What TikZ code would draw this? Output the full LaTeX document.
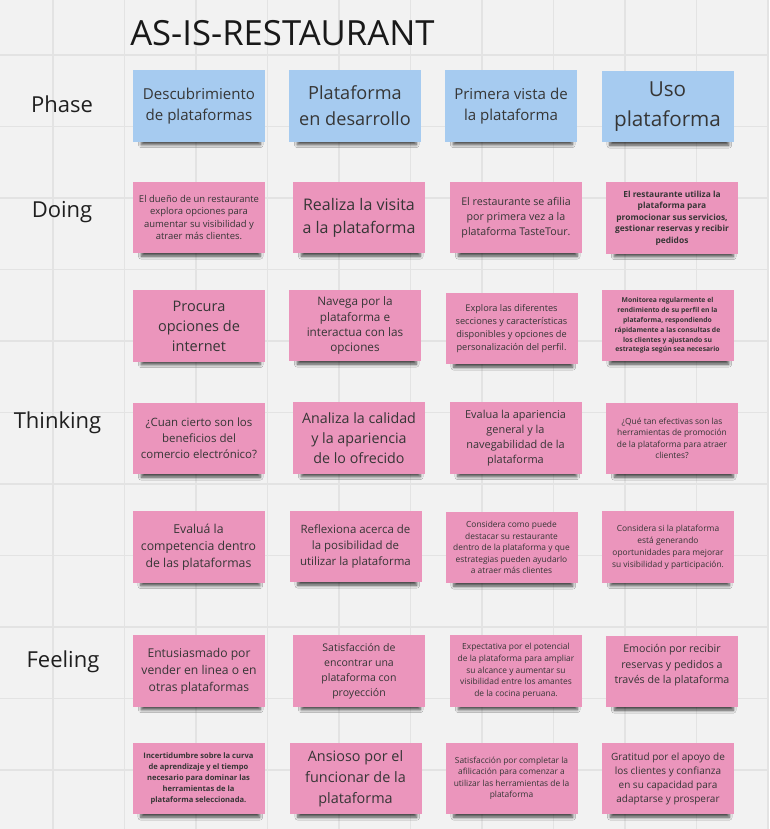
\documentclass[tikz,border=0pt]{standalone}
\usepackage{fontspec}
\setmainfont{Open Sans}
\newfontfamily\titlefont{Open Sans}
\usetikzlibrary{shadows.blur}
\definecolor{boardbg}{HTML}{F2F2F2}
\definecolor{gridline}{HTML}{E3E3E3}
\definecolor{phaseblue}{HTML}{A6CBF0}
\definecolor{notepink}{HTML}{EB95BC}
\definecolor{notetext}{HTML}{363636}

\begin{document}
\begin{tikzpicture}[
  x=0.75pt, y=-0.75pt,
  note/.style={minimum width=99pt, minimum height=53.5pt, inner sep=2pt, align=center, text=notetext,
    blur shadow={shadow xshift=1.5pt, shadow yshift=-5.5pt, shadow scale=0.9,
      shadow opacity=70, shadow blur steps=6, shadow blur radius=2.5pt}},
  phasenote/.style={note, fill=phaseblue},
  pinknote/.style={note, fill=notepink},
  fs/.style 2 args={font=\fontsize{#1}{#2}\selectfont},
  fsb/.style 2 args={font=\fontsize{#1}{#2}\selectfont\bfseries},
  rowlabel/.style={font=\fontsize{16.5}{20}\selectfont, text=black!88}
]
  \fill[boardbg] (0,0) rectangle (769,829);
  \useasboundingbox (0,0) rectangle (769,829);
  \foreach \k in {0,...,10} {
    \draw[gridline, line width=0.9pt] ({53+71.5*\k},0) -- ({53+71.5*\k},829);
    \draw[gridline, line width=0.9pt] (0,{55+71.5*\k}) -- (769,{55+71.5*\k});
  }

  \node[font=\titlefont\fontsize{26}{30}\selectfont, anchor=base west, inner sep=0, text=black!90] (title) at (130,45) {AS-IS-RESTAURANT};

  \node[rowlabel] (lphase) at (62,104) {Phase};
  \node[rowlabel] (ldoing) at (62,212) {Doing};
  \node[rowlabel] (lthinking) at (57.5,423) {Thinking};
  \node[rowlabel] (lfeeling) at (63,662) {Feeling};

  \node[phasenote, fs={11.3}{15.8}] (ph1) at (199,106) {Descubrimiento\\de plataformas};
  \node[phasenote, fs={13.6}{19.5}] (ph2) at (355,106) {Plataforma\\en desarrollo};
  \node[phasenote, fs={11.3}{15.8}] (ph3) at (511,106) {Primera vista de\\la plataforma};
  \node[phasenote, fs={15.5}{22.5}] (ph4) at (667.5,106.5) {Uso\\plataforma};

  \node[pinknote, fs={7.1}{9.3}] (doA1) at (199,217.5) {El dueño de un restaurante\\explora opciones para\\aumentar su visibilidad y\\atraer más clientes.};
  \node[pinknote, fs={12}{17.3}] (doA2) at (359,217.5) {Realiza la visita\\a la plataforma};
  \node[pinknote, fs={8}{11.3}] (doA3) at (516,217.5) {El restaurante se afilia\\por primera vez a la\\plataforma TasteTour.};
  \node[pinknote, fsb={6.3}{8.6}] (doA4) at (672,218) {El restaurante utiliza la\\plataforma para\\promocionar sus servicios,\\gestionar reservas y recibir\\pedidos};

  \node[pinknote, fs={10.9}{15}] (doB1) at (199,326) {Procura\\opciones de\\internet};
  \node[pinknote, fs={8.8}{11.3}] (doB2) at (355,325.5) {Navega por la\\plataforma e\\interactua con las\\opciones};
  \node[pinknote, fs={6.9}{9.6}] (doB3) at (511.5,328.5) {Explora las diferentes\\secciones y características\\disponibles y opciones de\\personalización del perfil.};
  \node[pinknote, fsb={5.1}{7.4}] (doB4) at (667.5,325.5) {Monitorea regularmente el\\rendimiento de su perfil en la\\plataforma, respondiendo\\rápidamente a las consultas de\\los clientes y ajustando su\\estrategia según sea necesario};

  \node[pinknote, fs={8.6}{12}] (thA1) at (199,438.5) {¿Cuan cierto son los\\beneficios del\\comercio electrónico?};
  \node[pinknote, fs={10.7}{15}] (thA2) at (359,438) {Analiza la calidad\\y la apariencia\\de lo ofrecido};
  \node[pinknote, fs={8.2}{11.3}] (thA3) at (515.5,438) {Evalua la apariencia\\general y la\\navegabilidad de la\\plataforma};
  \node[pinknote, fs={6.3}{8.6}] (thA4) at (672,438.5) {¿Qué tan efectivas son las\\herramientas de promoción\\de la plataforma para atraer\\clientes?};

  \node[pinknote, fs={9.2}{12.8}] (thB1) at (198.5,547) {Evaluá la\\competencia dentro\\de las plataformas};
  \node[pinknote, fs={8.6}{12}] (thB2) at (355.5,546.5) {Reflexiona acerca de\\la posibilidad de\\utilizar la plataforma};
  \node[pinknote, fs={6.3}{8.6}] (thB3) at (511.5,547.5) {Considera como puede\\destacar su restaurante\\dentro de la plataforma y que\\estrategias pueden ayudarlo\\a atraer más clientes};
  \node[pinknote, fs={6.3}{9}] (thB4) at (668,547) {Considera si la plataforma\\está generando\\oportunidades para mejorar\\su visibilidad y participación.};

  \node[pinknote, fs={9.1}{12.8}] (feA1) at (199,671) {Entusiasmado por\\vender en linea o en\\otras plataformas};
  \node[pinknote, fs={7.9}{11.3}] (feA2) at (359,671) {Satisfacción de\\encontrar una\\plataforma con\\proyección};
  \node[pinknote, fs={6.3}{8.8}] (feA3) at (516,671) {Expectativa por el potencial\\de la plataforma para ampliar\\su alcance y aumentar su\\visibilidad entre los amantes\\de la cocina peruana.};
  \node[pinknote, fs={8}{11.3}] (feA4) at (672,671.5) {Emoción por recibir\\reservas y pedidos a\\través de la plataforma\\~};

  \node[pinknote, fsb={5.7}{8.1}] (feB1) at (198.5,778.5) {Incertidumbre sobre la curva\\de aprendizaje y el tiempo\\necesario para dominar las\\herramientas de la\\plataforma seleccionada.};
  \node[pinknote, fs={10.8}{15.8}] (feB2) at (355.5,778.5) {Ansioso por el\\funcionar de la\\plataforma};
  \node[pinknote, fs={6.3}{8.6}] (feB3) at (511.5,778.5) {Satisfacción por completar la\\afilicación para comenzar a\\utilizar las herramientas de la\\plataforma};
  \node[pinknote, fs={7.5}{10.5}] (feB4) at (668,778.5) {Gratitud por el apoyo de\\los clientes y confianza\\en su capacidad para\\adaptarse y prosperar};
\end{tikzpicture}
\end{document}
